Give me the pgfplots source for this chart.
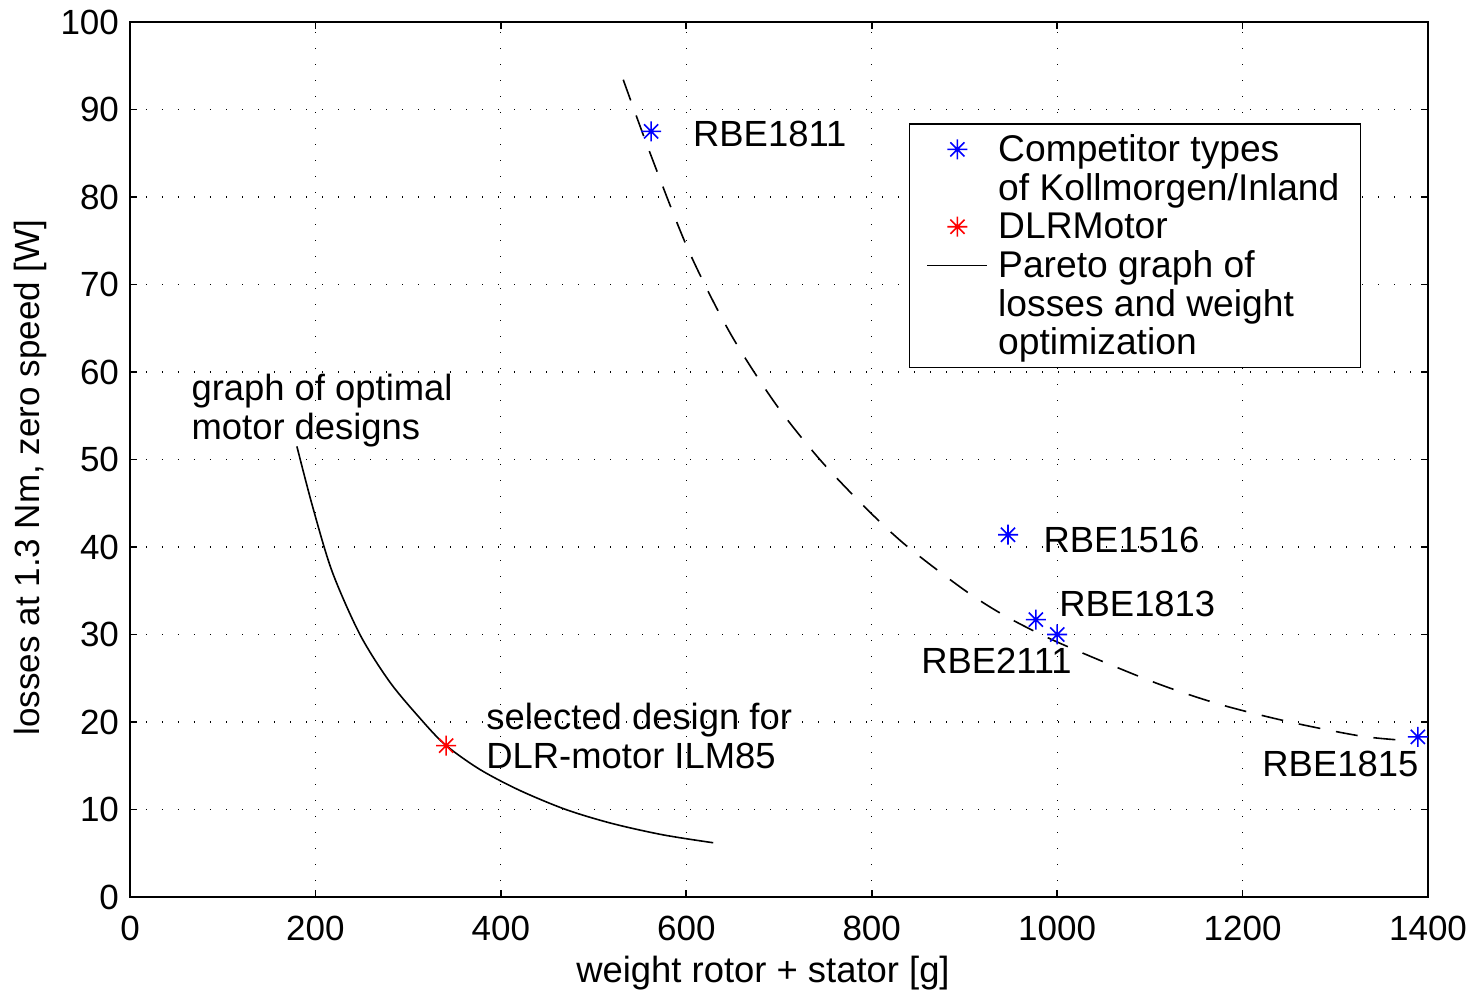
\documentclass[border=0pt]{standalone}
\usepackage{pgfplots}
\pgfplotsset{compat=1.18}
\usepackage{fontspec}
\setmainfont{Liberation Sans}
\pgfdeclareplotmark{mstar}{%
 \pgfpathmoveto{\pgfqpoint{-\pgfplotmarksize}{0pt}}\pgfpathlineto{\pgfqpoint{\pgfplotmarksize}{0pt}}%
 \pgfpathmoveto{\pgfqpoint{0pt}{-\pgfplotmarksize}}\pgfpathlineto{\pgfqpoint{0pt}{\pgfplotmarksize}}%
 \pgfpathmoveto{\pgfqpoint{-.707\pgfplotmarksize}{-.707\pgfplotmarksize}}\pgfpathlineto{\pgfqpoint{.707\pgfplotmarksize}{.707\pgfplotmarksize}}%
 \pgfpathmoveto{\pgfqpoint{-.707\pgfplotmarksize}{.707\pgfplotmarksize}}\pgfpathlineto{\pgfqpoint{.707\pgfplotmarksize}{-.707\pgfplotmarksize}}%
 \pgfusepathqstroke}
\pgfplotsset{
  linelegend/.style={legend image code/.code={\draw[##1] (0pt,6pt) -- (30pt,6pt);}},
  marklegend/.style={legend image code/.code={\draw[mark repeat=2,mark phase=2,##1] plot coordinates {(0pt,6pt) (15pt,6pt) (30pt,6pt)};}},
}
\newcommand{\tfont}{\fontsize{18.2}{19.75}\selectfont}
\newcommand{\lfont}{\fontsize{18.6}{19.75}\selectfont}
\begin{document}
\begin{tikzpicture}
\begin{axis}[
  scale only axis, width=649pt, height=437.5pt,
  xmin=0, xmax=1400, ymin=0, ymax=100,
  xtick={0,200,...,1400}, ytick={0,10,...,100},
  font=\fontsize{17.5}{20}\selectfont,
  /pgf/number format/assume math mode=true,
  /pgf/number format/1000 sep={},
  tick align=inside, major tick length=3.5pt,
  axis line style={line width=1pt},
  every tick/.style={line width=0.8pt, black},
  grid=major,
  major grid style={black, line width=0.6pt, dash pattern=on 0.6pt off 7.4pt},
  xticklabel style={yshift=-6pt},
  yticklabel style={xshift=-2pt},
  xlabel={weight rotor + stator [g]},
  ylabel={losses at 1.3 Nm, zero speed [W]},
  xlabel style={font=\tfont, yshift=-1pt, xshift=-8pt},
  ylabel style={yshift=0pt, xshift=-9pt},
  legend style={at={(0.6,0.8846)}, anchor=north west, draw=black, line width=0.8pt,
    cells={anchor=base west, inner ysep=0pt, inner xsep=3pt}, font=\lfont,
    inner xsep=8.5pt, inner ysep=3pt, row sep=0pt, column sep=3pt},
]
\addplot[only marks, blue, mark=mstar, mark size=5pt, line width=0.8pt, marklegend]
  coordinates {(562,87.5) (947,41.4) (977,31.7) (1000,30.0) (1389,18.3)};
\addlegendentry{\strut Competitor types}
\addlegendimage{empty legend}
\addlegendentry{\strut of Kollmorgen/Inland}
\addplot[only marks, red, mark=mstar, mark size=5pt, line width=0.8pt, marklegend]
  coordinates {(341,17.3)};
\addlegendentry{\strut DLRMotor}
\addplot[black, line width=0.8pt, smooth, no marks, linelegend] coordinates {
 (180,51.5) (197,44.6) (218,37.2) (248,30.0) (280,24.6) (313,20.4) (340,17.4)
 (377,14.6) (420,12.2) (470,10.0) (520,8.4) (575,7.1) (629,6.2)};
\addlegendentry{\strut Pareto graph of}
\addlegendimage{empty legend}
\addlegendentry{\strut losses and weight}
\addlegendimage{empty legend}
\addlegendentry{\strut optimization}
\addplot[black, line width=0.8pt, smooth, no marks, dash pattern=on 11pt off 8pt, forget plot] coordinates {
 (532,93.4) (561,85.0) (602,74.0) (647,64.5) (696,56.4) (744,50.0) (796,44.2)
 (839,40.0) (901,35.0) (946,32.0) (1003,29.0) (1103,24.6) (1176,22.0) (1251,20.0)
 (1327,18.4) (1375,17.9)};
\node[anchor=west, inner sep=0pt, font=\tfont] at (axis cs:607,87.2) {RBE1811};
\node[anchor=west, inner sep=0pt, font=\tfont] at (axis cs:985,40.8) {RBE1516};
\node[anchor=west, inner sep=0pt, font=\tfont] at (axis cs:1002,33.5) {RBE1813};
\node[anchor=west, inner sep=0pt, font=\tfont] at (axis cs:853,27.0) {RBE2111};
\node[anchor=west, inner sep=0pt, font=\tfont] at (axis cs:1221,15.2) {RBE1815};
\node[anchor=west, inner sep=0pt, align=left, font=\tfont] at (axis cs:66,55.6) {graph of optimal\\motor designs};
\node[anchor=west, inner sep=0pt, align=left, font=\tfont] at (axis cs:384,18.4) {selected design for\\DLR-motor ILM85};
\end{axis}
\pgfresetboundingbox
\path (current axis.south west) +(-65pt,-46pt) (current axis.north east) +(23.5pt,11pt);
\end{tikzpicture}
\end{document}
